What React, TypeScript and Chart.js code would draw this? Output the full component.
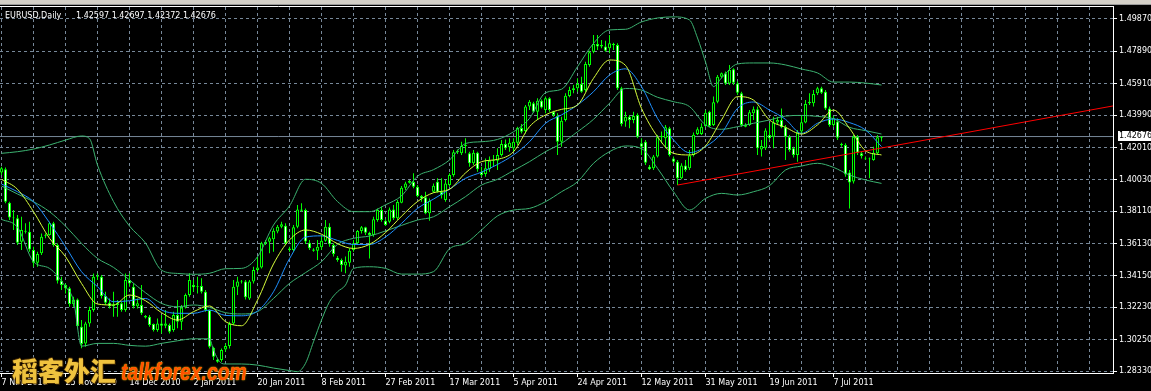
import React, { useEffect, useRef } from 'react';
import { Chart, registerables } from 'chart.js';

Chart.register(...registerables);

const symbolTitle = 'EURUSD,Daily';

const xTickLabels = ['7 Nov 2010', '25 Nov 2010', '14 Dec 2010', '2 Jan 2011', '20 Jan 2011', '8 Feb 2011', '27 Feb 2011', '17 Mar 2011', '5 Apr 2011', '24 Apr 2011', '12 May 2011', '31 May 2011', '19 Jun 2011', '7 Jul 2011'];

const yTickValues = [1.2833, 1.3025, 1.3223, 1.3415, 1.3613, 1.3811, 1.4003, 1.4201, 1.4399, 1.4591, 1.4789, 1.4987];

const opens = [
  1.4047, 1.4067, 1.3863, 1.3773, 1.3767, 1.3624, 1.3685, 1.3685, 1.3573, 1.3496,
  1.3553, 1.3659, 1.3665, 1.3737, 1.3604, 1.3386, 1.3359, 1.3339, 1.3243, 1.3271,
  1.3104, 1.3002, 1.3124, 1.3206, 1.3410, 1.3410, 1.3292, 1.3251, 1.3230, 1.3237,
  1.3247, 1.3206, 1.3390, 1.3349, 1.3230, 1.3237, 1.3169, 1.3165, 1.3120, 1.3084,
  1.3124, 1.3110, 1.3114, 1.3084, 1.3175, 1.3135, 1.3222, 1.3298, 1.3359, 1.3349,
  1.3353, 1.3318, 1.3206, 1.2976, 1.2904, 1.2900, 1.2965, 1.2986, 1.3124, 1.3349,
  1.3380, 1.3380, 1.3277, 1.3380, 1.3451, 1.3467, 1.3614, 1.3624, 1.3639, 1.3686,
  1.3716, 1.3722, 1.3583, 1.3573, 1.3716, 1.3822, 1.3818, 1.3618, 1.3577, 1.3569,
  1.3590, 1.3630, 1.3716, 1.3604, 1.3526, 1.3512, 1.3478, 1.3496, 1.3573, 1.3614,
  1.3690, 1.3712, 1.3679, 1.3665, 1.3757, 1.3818, 1.3753, 1.3747, 1.3822, 1.3767,
  1.3863, 1.3955, 1.3985, 1.3989, 1.3961, 1.3904, 1.3896, 1.3798, 1.3930, 1.3991,
  1.3930, 1.3879, 1.3971, 1.4033, 1.4171, 1.4165, 1.4210, 1.4165, 1.4104, 1.4169,
  1.4053, 1.4038, 1.4067, 1.4120, 1.4120, 1.4155, 1.4222, 1.4202, 1.4196, 1.4230,
  1.4320, 1.4302, 1.4451, 1.4471, 1.4420, 1.4487, 1.4430, 1.4502, 1.4420, 1.4393,
  1.4236, 1.4369, 1.4516, 1.4553, 1.4563, 1.4589, 1.4553, 1.4706, 1.4787, 1.4834,
  1.4818, 1.4818, 1.4808, 1.4834, 1.4828, 1.4563, 1.4359, 1.4389, 1.4369, 1.4400,
  1.4226, 1.4236, 1.4083, 1.4073, 1.4145, 1.4263, 1.4257, 1.4318, 1.4134, 1.4114,
  1.4012, 1.4090, 1.4073, 1.4155, 1.4283, 1.4283, 1.4332, 1.4420, 1.4339, 1.4481,
  1.4634, 1.4655, 1.4593, 1.4679, 1.4593, 1.4532, 1.4339, 1.4339, 1.4410, 1.4434,
  1.4189, 1.4196, 1.4277, 1.4267, 1.4353, 1.4369, 1.4324, 1.4267, 1.4196, 1.4155,
  1.4298, 1.4353, 1.4471, 1.4471, 1.4532, 1.4563, 1.4542, 1.4440, 1.4339, 1.4359,
  1.4222, 1.4216, 1.4047, 1.3992, 1.4267, 1.4165, 1.4134, 1.4134, 1.4124, 1.4165, 1.42597,
];

const highs = [
  1.4083, 1.4079, 1.3869, 1.3818, 1.3788, 1.3777, 1.3737, 1.3747, 1.3594, 1.3563,
  1.3675, 1.3675, 1.3747, 1.3747, 1.3614, 1.3410, 1.3369, 1.3349, 1.3288, 1.3277,
  1.3145, 1.3135, 1.3226, 1.3430, 1.3430, 1.3420, 1.3318, 1.3277, 1.3318, 1.3267,
  1.3257, 1.3430, 1.3430, 1.3369, 1.3277, 1.3359, 1.3175, 1.3175, 1.3124, 1.3155,
  1.3175, 1.3206, 1.3124, 1.3196, 1.3267, 1.3237, 1.3308, 1.3431, 1.3390, 1.3410,
  1.3400, 1.3328, 1.3210, 1.2982, 1.2910, 1.2971, 1.3002, 1.3135, 1.3390, 1.3410,
  1.3390, 1.3390, 1.3390, 1.3471, 1.3532, 1.3624, 1.3635, 1.3655, 1.3706, 1.3726,
  1.3747, 1.3737, 1.3594, 1.3726, 1.3849, 1.3859, 1.3828, 1.3634, 1.3584, 1.3634,
  1.3665, 1.3757, 1.3737, 1.3614, 1.3537, 1.3522, 1.3533, 1.3584, 1.3634, 1.3696,
  1.3720, 1.3716, 1.3685, 1.3777, 1.3828, 1.3839, 1.3761, 1.3834, 1.3849, 1.3879,
  1.3965, 1.3991, 1.4002, 1.4043, 1.3971, 1.3910, 1.3930, 1.3889, 1.3981, 1.4012,
  1.4012, 1.4002, 1.4043, 1.4185, 1.4189, 1.4236, 1.4257, 1.4175, 1.4185, 1.4175,
  1.4083, 1.4134, 1.4145, 1.4155, 1.4196, 1.4246, 1.4250, 1.4257, 1.4257, 1.4328,
  1.4345, 1.4461, 1.4491, 1.4481, 1.4502, 1.4495, 1.4512, 1.4508, 1.4426, 1.4410,
  1.4389, 1.4532, 1.4573, 1.4583, 1.4624, 1.4634, 1.4726, 1.4793, 1.4889, 1.4889,
  1.4858, 1.4854, 1.4889, 1.4842, 1.4838, 1.4573, 1.4420, 1.4400, 1.4420, 1.4410,
  1.4257, 1.4247, 1.4094, 1.4155, 1.4277, 1.4298, 1.4339, 1.4328, 1.4145, 1.4124,
  1.4104, 1.4124, 1.4185, 1.4292, 1.4324, 1.4349, 1.4430, 1.4426, 1.4512, 1.4644,
  1.4659, 1.4665, 1.4706, 1.4685, 1.4604, 1.4542, 1.4349, 1.4430, 1.4451, 1.4451,
  1.4247, 1.4318, 1.4349, 1.4389, 1.4389, 1.4440, 1.4339, 1.4277, 1.4206, 1.4308,
  1.4400, 1.4491, 1.4532, 1.4552, 1.4573, 1.4573, 1.4552, 1.4451, 1.4393, 1.4379,
  1.4230, 1.4226, 1.4063, 1.4277, 1.4277, 1.4175, 1.4145, 1.4140, 1.4206, 1.4277, 1.42697,
];

const lows = [
  1.4032, 1.3859, 1.3757, 1.3696, 1.3604, 1.3573, 1.3675, 1.3563, 1.3471, 1.3471,
  1.3543, 1.3645, 1.3660, 1.3594, 1.3369, 1.3328, 1.3308, 1.3226, 1.3226, 1.3094,
  1.2972, 1.2982, 1.3104, 1.3196, 1.3390, 1.3277, 1.3237, 1.3216, 1.3165, 1.3165,
  1.3196, 1.3196, 1.3349, 1.3216, 1.3216, 1.3175, 1.3155, 1.3104, 1.3074, 1.3073,
  1.3063, 1.3094, 1.3063, 1.3073, 1.3094, 1.3084, 1.3216, 1.3288, 1.3318, 1.3308,
  1.3308, 1.3196, 1.2971, 1.2900, 1.2884, 1.2890, 1.2951, 1.2971, 1.3114, 1.3298,
  1.3369, 1.3271, 1.3267, 1.3369, 1.3441, 1.3461, 1.3604, 1.3553, 1.3563, 1.3676,
  1.3706, 1.3604, 1.3563, 1.3563, 1.3706, 1.3808, 1.3610, 1.3573, 1.3563, 1.3512,
  1.3573, 1.3624, 1.3594, 1.3533, 1.3502, 1.3441, 1.3431, 1.3471, 1.3563, 1.3604,
  1.3675, 1.3665, 1.3522, 1.3655, 1.3747, 1.3747, 1.3720, 1.3737, 1.3757, 1.3757,
  1.3859, 1.3941, 1.3981, 1.3951, 1.3896, 1.3869, 1.3792, 1.3753, 1.3924, 1.3924,
  1.3889, 1.3869, 1.3961, 1.4022, 1.4161, 1.4155, 1.4165, 1.4083, 1.4094, 1.4053,
  1.4022, 1.4022, 1.4053, 1.4083, 1.4063, 1.4145, 1.4185, 1.4175, 1.4175, 1.4216,
  1.4287, 1.4287, 1.4430, 1.4414, 1.4369, 1.4440, 1.4410, 1.4420, 1.4389, 1.4155,
  1.4206, 1.4359, 1.4508, 1.4532, 1.4542, 1.4536, 1.4542, 1.4695, 1.4777, 1.4797,
  1.4808, 1.4787, 1.4777, 1.4797, 1.4553, 1.4330, 1.4328, 1.4318, 1.4349, 1.4257,
  1.4155, 1.4094, 1.4063, 1.4063, 1.4140, 1.4226, 1.4196, 1.4145, 1.4104, 1.3971,
  1.4006, 1.4053, 1.4063, 1.4145, 1.4277, 1.4277, 1.4324, 1.4324, 1.4332, 1.4471,
  1.4624, 1.4583, 1.4583, 1.4583, 1.4522, 1.4328, 1.4324, 1.4332, 1.4369, 1.4155,
  1.4145, 1.4185, 1.4247, 1.4196, 1.4339, 1.4318, 1.4124, 1.4175, 1.4140, 1.4114,
  1.4287, 1.4349, 1.4461, 1.4451, 1.4522, 1.4528, 1.4430, 1.4328, 1.4328, 1.4247,
  1.4206, 1.4022, 1.3828, 1.3981, 1.4155, 1.4134, 1.4124, 1.4012, 1.4120, 1.4155, 1.42372,
];

const closes = [
  1.4073, 1.3869, 1.3773, 1.3767, 1.3618, 1.3696, 1.3691, 1.3577, 1.3496, 1.3549,
  1.3655, 1.3663, 1.3737, 1.3604, 1.3386, 1.3359, 1.3339, 1.3243, 1.3271, 1.3108,
  1.2998, 1.3124, 1.3206, 1.3410, 1.3414, 1.3292, 1.3251, 1.3230, 1.3237, 1.3247,
  1.3206, 1.3390, 1.3369, 1.3230, 1.3247, 1.3186, 1.3161, 1.3114, 1.3084, 1.3124,
  1.3110, 1.3124, 1.3073, 1.3175, 1.3135, 1.3222, 1.3298, 1.3390, 1.3345, 1.3353,
  1.3318, 1.3206, 1.2982, 1.2920, 1.2890, 1.2961, 1.2986, 1.3120, 1.3349, 1.3380,
  1.3384, 1.3284, 1.3380, 1.3451, 1.3467, 1.3614, 1.3624, 1.3645, 1.3692, 1.3716,
  1.3731, 1.3614, 1.3573, 1.3712, 1.3822, 1.3814, 1.3625, 1.3584, 1.3569, 1.3594,
  1.3630, 1.3716, 1.3608, 1.3549, 1.3512, 1.3482, 1.3502, 1.3569, 1.3614, 1.3690,
  1.3712, 1.3679, 1.3665, 1.3761, 1.3818, 1.3757, 1.3726, 1.3822, 1.3767, 1.3867,
  1.3955, 1.3981, 1.3996, 1.3961, 1.3904, 1.3889, 1.3798, 1.3875, 1.3967, 1.3930,
  1.3910, 1.3981, 1.4033, 1.4171, 1.4181, 1.4210, 1.4216, 1.4104, 1.4169, 1.4067,
  1.4032, 1.4073, 1.4120, 1.4124, 1.4155, 1.4222, 1.4196, 1.4230, 1.4236, 1.4320,
  1.4297, 1.4451, 1.4481, 1.4420, 1.4487, 1.4446, 1.4502, 1.4430, 1.4400, 1.4236,
  1.4365, 1.4518, 1.4553, 1.4563, 1.4589, 1.4542, 1.4712, 1.4783, 1.4834, 1.4818,
  1.4828, 1.4793, 1.4838, 1.4826, 1.4563, 1.4345, 1.4389, 1.4369, 1.4393, 1.4267,
  1.4206, 1.4108, 1.4067, 1.4145, 1.4263, 1.4271, 1.4324, 1.4155, 1.4114, 1.4012,
  1.4090, 1.4063, 1.4151, 1.4279, 1.4312, 1.4328, 1.4414, 1.4332, 1.4477, 1.4634,
  1.4655, 1.4593, 1.4675, 1.4597, 1.4536, 1.4339, 1.4328, 1.4416, 1.4434, 1.4196,
  1.4210, 1.4304, 1.4257, 1.4353, 1.4369, 1.4324, 1.4267, 1.4185, 1.4155, 1.4294,
  1.4355, 1.4467, 1.4481, 1.4528, 1.4563, 1.4536, 1.4440, 1.4339, 1.4379, 1.4261,
  1.4214, 1.4036, 1.3986, 1.4267, 1.4169, 1.4149, 1.4128, 1.4128, 1.4169, 1.4263, 1.42676,
];

// [bar index, price] pairs
const maFast: [number, number][] = [
  [0, 1.4006], [4, 1.3945], [8, 1.3808], [12, 1.3645], [16, 1.3533], [20, 1.3369], [24, 1.3243], [28, 1.3237],
  [32, 1.3298], [36, 1.3263], [40, 1.3190], [44, 1.3145], [48, 1.3196], [52, 1.3231], [56, 1.3135], [60, 1.3110],
  [64, 1.3267], [68, 1.3488], [72, 1.3635], [76, 1.3696], [80, 1.3670], [84, 1.3612], [88, 1.3583], [92, 1.3608],
  [96, 1.3680], [100, 1.3780], [104, 1.3870], [108, 1.3924], [112, 1.3945], [116, 1.4045], [120, 1.4114], [124, 1.4128],
  [128, 1.4175], [132, 1.4328], [136, 1.4400], [140, 1.4434], [144, 1.4461], [148, 1.4624], [152, 1.4736], [156, 1.4703],
  [160, 1.4440], [164, 1.4267], [168, 1.4165], [172, 1.4155], [176, 1.4210], [180, 1.4369], [184, 1.4512], [188, 1.4491],
  [192, 1.4369], [196, 1.4324], [200, 1.4283], [204, 1.4339], [208, 1.4430], [212, 1.4318], [216, 1.4181], [220, 1.4155],
];

const maSlow: [number, number][] = [
  [0, 1.3977], [4, 1.3930], [8, 1.3869], [12, 1.3741], [16, 1.3594], [20, 1.3441], [24, 1.3349], [28, 1.3257],
  [32, 1.3263], [36, 1.3277], [40, 1.3206], [44, 1.3186], [48, 1.3186], [52, 1.3206], [56, 1.3173], [60, 1.3171],
  [64, 1.3200], [68, 1.3318], [72, 1.3520], [76, 1.3652], [80, 1.3660], [84, 1.3632], [88, 1.3607], [92, 1.3607],
  [96, 1.3653], [100, 1.3736], [104, 1.3828], [108, 1.3885], [112, 1.3945], [116, 1.4012], [120, 1.4050], [124, 1.4097],
  [128, 1.4155], [132, 1.4236], [136, 1.4349], [140, 1.4400], [144, 1.4461], [148, 1.4542], [152, 1.4644], [156, 1.4682],
  [160, 1.4573], [164, 1.4379], [168, 1.4247], [172, 1.4169], [176, 1.4206], [180, 1.4287], [184, 1.4440], [188, 1.4479],
  [192, 1.4430], [196, 1.4373], [200, 1.4287], [204, 1.4349], [208, 1.4375], [212, 1.4353], [216, 1.4308], [220, 1.4206],
];

const bandUpper: [number, number][] = [
  [0, 1.4165], [4, 1.4175], [8, 1.4191], [12, 1.4216], [16, 1.4246], [20, 1.4271], [22, 1.4255], [24, 1.4093],
  [28, 1.3870], [32, 1.3720], [36, 1.3616], [40, 1.3450], [44, 1.3430], [48, 1.3425], [52, 1.3431], [56, 1.3459],
  [60, 1.3461], [64, 1.3532], [68, 1.3726], [72, 1.3843], [76, 1.4006], [80, 1.3981], [84, 1.3870], [88, 1.3808],
  [92, 1.3808], [96, 1.3850], [100, 1.3905], [104, 1.4025], [108, 1.4065], [112, 1.4124], [116, 1.4225], [120, 1.4236],
  [124, 1.4250], [128, 1.4297], [132, 1.4379], [136, 1.4536], [140, 1.4557], [144, 1.4695], [148, 1.4838], [152, 1.4920],
  [156, 1.4924], [160, 1.4969], [164, 1.4993], [168, 1.5000], [172, 1.4981], [174, 1.4871], [176, 1.4724], [178, 1.4573],
  [180, 1.4626], [184, 1.4712], [188, 1.4718], [192, 1.4718], [196, 1.4706], [200, 1.4681], [204, 1.4657], [208, 1.4601],
  [212, 1.4601], [216, 1.4595], [220, 1.4583],
];

const bandMiddle: [number, number][] = [
  [0, 1.3965], [4, 1.3916], [8, 1.3869], [12, 1.3808], [16, 1.3720], [20, 1.3614], [24, 1.3522], [28, 1.3467],
  [32, 1.3390], [36, 1.3312], [40, 1.3247], [44, 1.3226], [48, 1.3237], [52, 1.3222], [56, 1.3190], [60, 1.3182],
  [64, 1.3196], [68, 1.3277], [72, 1.3369], [76, 1.3435], [80, 1.3502], [84, 1.3608], [88, 1.3645], [92, 1.3659],
  [96, 1.3690], [100, 1.3724], [104, 1.3757], [108, 1.3777], [112, 1.3838], [116, 1.3900], [120, 1.3971], [124, 1.4006],
  [128, 1.4060], [132, 1.4114], [136, 1.4175], [140, 1.4226], [144, 1.4297], [148, 1.4373], [152, 1.4471], [156, 1.4562],
  [160, 1.4552], [164, 1.4508], [168, 1.4481], [172, 1.4451], [176, 1.4339], [180, 1.4312], [184, 1.4328], [188, 1.4349],
  [192, 1.4369], [196, 1.4393], [200, 1.4397], [204, 1.4391], [208, 1.4377], [212, 1.4324], [216, 1.4304], [220, 1.4283],
];

const bandLower: [number, number][] = [
  [0, 1.3761], [4, 1.3712], [8, 1.3502], [12, 1.3461], [16, 1.3349], [18, 1.3263], [20, 1.2985], [24, 1.3002],
  [28, 1.3002], [32, 1.2990], [36, 1.2985], [40, 1.3002], [44, 1.3018], [48, 1.3030], [52, 1.3030], [53, 1.2961],
  [55, 1.2880], [56, 1.2876], [60, 1.2876], [64, 1.2869], [68, 1.2851], [72, 1.2836], [74, 1.2829], [76, 1.2880],
  [78, 1.3012], [80, 1.3145], [82, 1.3257], [84, 1.3318], [86, 1.3359], [88, 1.3461], [92, 1.3471], [96, 1.3461],
  [100, 1.3426], [104, 1.3426], [108, 1.3441], [112, 1.3581], [116, 1.3614], [120, 1.3696], [124, 1.3782], [128, 1.3818],
  [132, 1.3828], [136, 1.3869], [140, 1.3930], [144, 1.3991], [148, 1.4104], [152, 1.4175], [156, 1.4210], [160, 1.4194],
  [164, 1.4073], [168, 1.3930], [172, 1.3818], [176, 1.3889], [180, 1.3920], [184, 1.3910], [188, 1.3930], [192, 1.3967],
  [196, 1.4063], [200, 1.4087], [204, 1.4104], [208, 1.4079], [212, 1.4032], [216, 1.4002], [220, 1.3981],
];

const trendLine: [number, number][] = [[169, 1.3971], [277.9, 1.4455]];

// axis window (bar index / price at the plot edges)
const X_MIN = -0.375;
const X_MAX = 277.875;
const Y_MIN = 1.28208;
const Y_MAX = 1.50604;
const GRID_STEP = 8;
const LABEL_STEP = 16;

const FONT = 'DejaVu Sans';
const GRID = '#778899';
const CANDLE = '#00ff00';
const BAND = '#3cb371';

export default function App() {
  const ref = useRef<HTMLCanvasElement | null>(null);
  const last = closes.length - 1;

  useEffect(() => {
    const canvas = ref.current;
    if (!canvas) return;
    Chart.defaults.font.family = FONT;
    Chart.defaults.font.size = 8;

    const idx = opens.map((_, i) => i);
    const pts = (arr: [number, number][]) => arr.map(([x, y]) => ({ x, y }));
    const gridTicks: number[] = [];
    for (let v = 0; v <= X_MAX; v += GRID_STEP) gridTicks.push(v);
    const isLabelTick = (v: number) => v % LABEL_STEP === 0 && v / LABEL_STEP < xTickLabels.length;

    const lineDs = (label: string, data: any[], color: string, order: number) => ({
      type: 'line' as const,
      label,
      data,
      borderColor: color,
      borderWidth: 1,
      pointRadius: 0,
      fill: false,
      cubicInterpolationMode: 'monotone' as const,
      order,
    });

    const overlay = {
      id: 'mtOverlay',
      afterDraw(chart: any) {
        const { ctx, chartArea, scales } = chart;
        ctx.save();
        // top frame line
        ctx.strokeStyle = '#ffffff';
        ctx.lineWidth = 1;
        ctx.beginPath();
        ctx.moveTo(0, chartArea.top - 0.5);
        ctx.lineTo(chartArea.right + 1, chartArea.top - 0.5);
        ctx.stroke();
        // current price label
        const y = scales.y.getPixelForValue(closes[last]);
        ctx.fillStyle = '#ffffff';
        ctx.fillRect(chartArea.right + 5, Math.round(y) - 6, 40, 10);
        ctx.fillStyle = '#000000';
        ctx.font = `8px "${FONT}"`;
        ctx.textBaseline = 'middle';
        ctx.textAlign = 'left';
        ctx.fillText(closes[last].toFixed(5), chartArea.right + 6, Math.round(y) - 1);
        ctx.restore();
      },
    };

    const chart = new Chart(canvas, {
      type: 'bar',
      data: {
        datasets: [
          lineDs('price', [{ x: X_MIN, y: closes[last] }, { x: X_MAX, y: closes[last] }], GRID, 6) as any,
          {
            type: 'bar',
            label: 'wick',
            data: idx.map((i) => ({ x: i, y: [lows[i], highs[i]] })) as any,
            backgroundColor: CANDLE,
            borderWidth: 0,
            barThickness: 1,
            grouped: false,
            inflateAmount: 0,
            order: 4,
          } as any,
          {
            type: 'bar',
            label: 'body',
            data: idx.map((i) => ({ x: i, y: [opens[i], closes[i]] })) as any,
            backgroundColor: idx.map((i) => (closes[i] >= opens[i] ? '#000000' : '#ffffff')),
            borderColor: CANDLE,
            borderWidth: 1,
            borderSkipped: false,
            barThickness: 3,
            grouped: false,
            inflateAmount: 0,
            order: 3,
          } as any,
          lineDs('bbUpper', pts(bandUpper), BAND, 2) as any,
          lineDs('bbMiddle', pts(bandMiddle), BAND, 2) as any,
          lineDs('bbLower', pts(bandLower), BAND, 2) as any,
          lineDs('maSlow', pts(maSlow), '#1e90ff', 1) as any,
          lineDs('maFast', pts(maFast), '#d8ff3c', 0) as any,
          { ...lineDs('trend', pts(trendLine), '#ff0000', -1), cubicInterpolationMode: 'default', tension: 0 } as any,
        ],
      },
      options: {
        animation: false,
        responsive: false,
        maintainAspectRatio: false,
        events: [],
        layout: { padding: { top: 7, left: 0, right: 0, bottom: 0 } },
        plugins: { legend: { display: false }, tooltip: { enabled: false }, title: { display: false } },
        scales: {
          x: {
            type: 'linear',
            position: 'bottom',
            min: X_MIN,
            max: X_MAX,
            offset: false,
            grid: {
              offset: false,
              color: GRID,
              lineWidth: 1,
              tickLength: 4,
              tickColor: (c: any) => (c.tick && isLabelTick(c.tick.value) ? '#ffffff' : 'rgba(0,0,0,0)'),
            },
            border: { display: true, color: '#ffffff', width: 1, dash: [3, 3] },
            ticks: {
              autoSkip: false,
              maxRotation: 0,
              minRotation: 0,
              align: 'start',
              padding: 1,
              color: '#ffffff',
              font: { family: FONT, size: 8 },
              callback: (v: any) => (isLabelTick(Number(v)) ? xTickLabels[Number(v) / LABEL_STEP] : ''),
            },
            afterBuildTicks: (s: any) => {
              s.ticks = gridTicks.map((value) => ({ value }));
            },
            afterFit: (s: any) => {
              s.height = 18;
            },
          } as any,
          y: {
            type: 'linear',
            position: 'right',
            min: Y_MIN,
            max: Y_MAX,
            beginAtZero: false,
            grid: { color: GRID, lineWidth: 1, tickLength: 4, tickColor: '#ffffff' },
            border: { display: true, color: '#ffffff', width: 1, dash: [3, 3] },
            ticks: {
              autoSkip: false,
              padding: 2,
              color: '#ffffff',
              font: { family: FONT, size: 8 },
              callback: (v: any) => Number(v).toFixed(5),
            },
            afterBuildTicks: (s: any) => {
              s.ticks = yTickValues.map((value) => ({ value }));
            },
            afterFit: (s: any) => {
              s.width = 38;
            },
          } as any,
        },
      },
      plugins: [overlay],
    });
    return () => chart.destroy();
  }, []);

  const ohlc = [opens[last], highs[last], lows[last], closes[last]].map((v) => v.toFixed(5)).join(' ');

  return (
    <div style={{ position: 'fixed', left: 0, top: 0, width: 1151, height: 391, background: '#000', overflow: 'hidden' }}>
      <div style={{ position: 'absolute', left: 0, top: 0, width: 1151, height: 4, background: '#d4d0c8' }} />
      <div style={{ position: 'absolute', left: 0, top: 4, width: 1151, height: 1, background: '#9a9a9a' }} />
      <canvas ref={ref} width={1151} height={391} style={{ position: 'absolute', left: 0, top: 0, width: 1151, height: 391, display: 'block' }} />
      <div style={{ position: 'absolute', left: 5, top: 11, font: `8px "${FONT}"`, lineHeight: '10px', color: '#fff', whiteSpace: 'pre' }}>
        {symbolTitle}
      </div>
      <div style={{ position: 'absolute', left: 76, top: 11, font: `8px "${FONT}"`, lineHeight: '10px', color: '#fff', whiteSpace: 'pre' }}>
        {ohlc}
      </div>
      <div
        style={{
          position: 'absolute',
          left: 12,
          top: 355,
          fontFamily: '"Noto Sans CJK SC"',
          fontWeight: 900,
          fontSize: 26,
          lineHeight: '30px',
          color: '#efc23e',
          textShadow: '1px 1px 0 #3a2200, -1px 0 0 #3a2200, 0 -1px 0 #3a2200',
          whiteSpace: 'nowrap',
        }}
      >
        稻客外汇
      </div>
      <div
        style={{
          position: 'absolute',
          left: 121,
          top: 360,
          fontFamily: '"Liberation Sans"',
          fontStyle: 'italic',
          fontWeight: 700,
          fontSize: 23,
          lineHeight: '24px',
          color: '#ff5200',
          textShadow: '0 0 1px #ffcc00, 0 0 2px #ffb000',
          transform: 'scaleX(0.84)',
          transformOrigin: 'left top',
          whiteSpace: 'nowrap',
        }}
      >
        talkforex.com
      </div>
    </div>
  );
}
